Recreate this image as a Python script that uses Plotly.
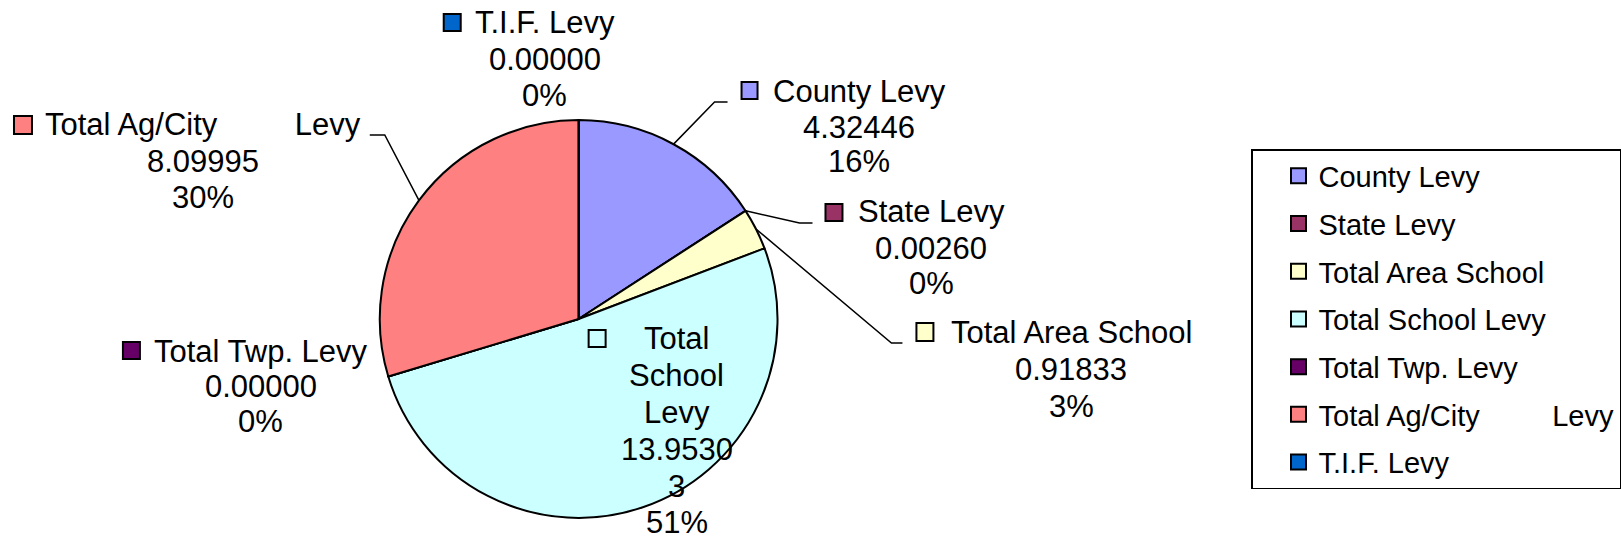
import math
import plotly.graph_objects as go

W, H = 1621, 541

labels = ["County Levy", "State Levy", "Total Area School", "Total School Levy",
          "Total Twp. Levy", "Total Ag/City\u00a0\u00a0\u00a0\u00a0\u00a0\u00a0\u00a0\u00a0\u00a0Levy", "T.I.F. Levy"]
values = [4.32446, 0.00260, 0.91833, 13.95303, 0.00000, 8.09995, 0.00000]
colors = ["#9999FF", "#993366", "#FFFFCC", "#CCFFFF", "#660066", "#FF8080", "#0066CC"]

FONT = "Liberation Sans, Arial, sans-serif"


def px(x):
    return x / W


def py(y):
    return 1 - y / H


# pie geometry in pixels (center and radius)
cx, cy, r = 579, 319, 199

total = sum(values)
pcts = [v / total for v in values]
val_txt = [f"{v:.5f}" for v in values]
pct_txt = [f"{round(p * 100):.0f}%" for p in pcts]

# label text lines, built from the data
lines = []
for i, lab in enumerate(labels):
    if i == 3:
        lines.append(lab.split(" ") + [val_txt[i][:7], val_txt[i][7:], pct_txt[i]])
    else:
        lines.append([lab, val_txt[i], pct_txt[i]])

# label placement: text center x, baselines, key box (x0, y0, x1, y1)
label_pos = [
    (860, [102, 138, 172], (742, 82, 758, 99)),
    (932, [222, 259, 294], (826, 204, 843, 221)),
    (1072, [343, 380, 417], (917, 323, 934, 341)),
    (677, [349, 386, 423, 460, 497, 533], (589, 330, 606, 347)),
    (261, [362, 397, 432], (123, 342, 140, 359)),
    (203, [135, 172, 208], (14, 116, 32, 134)),
    (545, [33, 70, 106], (444, 14, 461, 31)),
]

# leader line bends (elbow point, end point) for slices that have them
leaders = {
    0: [(715, 102), (728, 102)],
    1: [(800, 223), (813, 223)],
    2: [(892, 343), (903, 343)],
    5: [(385, 135), (370, 135)],
}

fig = go.Figure()

fig.add_trace(go.Pie(
    labels=labels,
    values=values,
    sort=False,
    direction="clockwise",
    rotation=0,
    marker=dict(colors=colors, line=dict(color="black", width=2)),
    textinfo="none",
    hoverinfo="label+value+percent",
    showlegend=False,
    domain=dict(x=[px(cx - r), px(cx + r)], y=[py(cy + r), py(cy - r)]),
))

# legend entries
for lab, col in zip(labels, colors):
    fig.add_trace(go.Scatter(
        x=[None], y=[None], mode="markers", name=lab, legendgroup=lab,
        marker=dict(symbol="square", size=15, color=col, line=dict(color="black", width=2)),
    ))

fs = 31
cum = 0
for i in range(len(values)):
    mid = cum + pcts[i] / 2
    cum += pcts[i]
    xc, bases, key = label_pos[i]
    for t, b in zip(lines[i], bases):
        fig.add_annotation(x=px(xc), y=py(b - 0.35 * fs), xref="paper", yref="paper",
                           text=t, showarrow=False, xanchor="center", yanchor="middle",
                           font=dict(family=FONT, size=fs, color="black"))
    x0, y0, x1, y1 = key
    fig.add_shape(type="rect", xref="paper", yref="paper",
                  x0=px(x0), x1=px(x1), y0=py(y1), y1=py(y0),
                  fillcolor=colors[i], line=dict(color="black", width=2))
    if i in leaders:
        ang = 2 * math.pi * mid
        sx = cx + r * math.sin(ang)
        sy = cy - r * math.cos(ang)
        pts = [(sx, sy)] + leaders[i]
        path = "M " + " L ".join(f"{px(a)},{py(b)}" for a, b in pts)
        fig.add_shape(type="path", xref="paper", yref="paper", path=path,
                      line=dict(color="black", width=1.5))

fig.update_xaxes(visible=False)
fig.update_yaxes(visible=False)

fig.update_layout(
    width=W, height=H,
    margin=dict(l=0, r=0, t=0, b=0),
    paper_bgcolor="white",
    plot_bgcolor="white",
    font=dict(family=FONT, color="black"),
    legend=dict(
        x=px(1252), y=py(149), xanchor="left", yanchor="top",
        bordercolor="black", borderwidth=1.5, bgcolor="white",
        font=dict(family=FONT, size=29, color="black"),
        traceorder="grouped", tracegroupgap=7,
        indentation=26, itemwidth=30,
    ),
)

# the page body has a default 8px margin; drop it so the figure sits at 0,0
fig.write_html("out.html", config={"displayModeBar": False},
               post_script="document.body.style.margin='0px';")
